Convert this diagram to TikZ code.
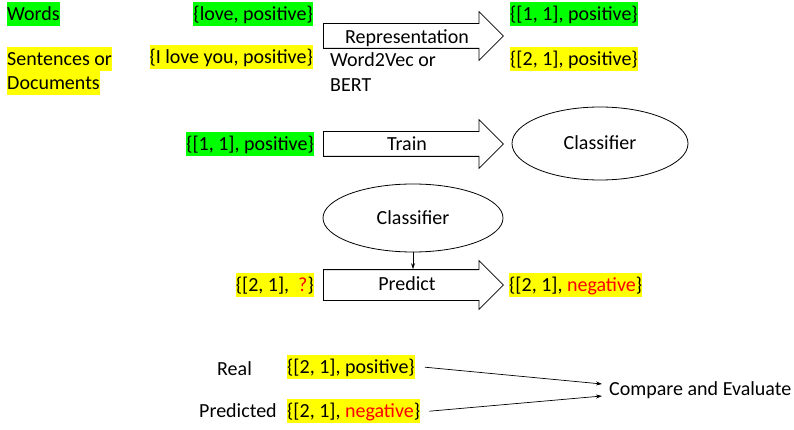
\documentclass[tikz,border=0pt]{standalone}
\usepackage{fontspec}
\setmainfont{Carlito}
\usetikzlibrary{shapes.geometric,shapes.arrows,arrows.meta,calc}
\definecolor{hlgreen}{HTML}{00FF00}
\definecolor{hlyellow}{HTML}{FFFF00}
\definecolor{hlred}{HTML}{FF0000}
\tikzset{
  every node/.style={font=\fontsize{20}{24}\selectfont, inner sep=0pt},
  hl/.style={inner xsep=0pt, inner ysep=0pt, text height=18pt, text depth=6pt},
  grn/.style={hl, fill=hlgreen},
  ylw/.style={hl, fill=hlyellow},
  plain/.style={inner sep=0pt},
  blockarrow/.style={single arrow, draw=black, line width=0.8pt, fill=white,
    minimum height=180pt, text height=0pt, text depth=0pt,
    single arrow tip angle=90, anchor=tail},
  classbox/.style={ellipse, draw=black, line width=0.8pt,
    text height=13pt, text depth=0pt},
  thinarrow/.style={line width=0.7pt, -{Stealth[length=6pt,width=4pt]}},
}
\newcommand{\redword}[1]{\textcolor{hlred}{#1}}
\begin{document}
\begin{tikzpicture}[x=1pt, y=-1pt]
  \path[use as bounding box] (0,0) rectangle (794,430);

  % data kinds and raw samples
  \node[grn, anchor=north west] (words) at (7,2) {Words};
  \node[grn, anchor=north east] (lovep) at (313,2) {\{love, positive\}};
  \node[ylw, anchor=north west] (sent1) at (7,47) {Sentences or};
  \node[ylw, anchor=north west] (sent2) at (7,71) {Documents};
  \node[ylw, anchor=north east] (iloveyou) at (313,45) {\{I love you, positive\}};

  % representation step
  \node[blockarrow, inner ysep=12pt, single arrow head extend=12pt] (rep) at (323,36) {};
  \node[plain, anchor=base] (reptext) at (407,44) {Representation};
  \node[plain, anchor=base west] (w2v) at (330,67) {Word2Vec or};
  \node[plain, anchor=base west] (bert) at (330,92) {BERT};
  \node[grn, anchor=north west] (v11) at (510,2) {\{[1, 1], positive\}};
  \node[ylw, anchor=north west] (v21) at (510,47) {\{[2, 1], positive\}};

  % training step
  \node[grn, anchor=north east] (t11) at (314,132) {\{[1, 1], positive\}};
  \node[blockarrow, inner ysep=12pt, single arrow head extend=12pt] (train) at (323,144) {};
  \node[plain, anchor=base] (traintext) at (407,151) {Train};
  \node[classbox, minimum width=176pt, minimum height=73pt] (cls1) at (600,143.5) {Classifier};

  % prediction step
  \node[classbox, minimum width=180pt, minimum height=68pt] (cls2) at (413,218) {Classifier};
  \node[blockarrow, inner ysep=15pt, single arrow head extend=9pt] (pred) at (323,285) {};
  \node[plain, anchor=base] (predtext) at (407,290) {Predict};
  \node[ylw, anchor=north east] (q) at (314,273) {\{[2, 1],\ \ \redword{?}\}};
  \node[ylw, anchor=north west] (negv) at (509,273) {\{[2, 1], \redword{negative}\}};
  \draw[thinarrow] (cls2.south) -- (cls2.south |- pred.north);

  % evaluation
  \node[plain, anchor=base west] (real) at (217,375) {Real};
  \node[ylw, anchor=north west] (realv) at (287,355) {\{[2, 1], positive\}};
  \node[plain, anchor=base west] (predicted) at (199,417) {Predicted};
  \node[ylw, anchor=north west] (predv) at (287,399) {\{[2, 1], \redword{negative}\}};
  \node[plain, anchor=base west, text height=14pt, text depth=4pt] (cmp) at (609,395) {Compare and Evaluate};
  \draw[thinarrow] ($(realv.east)+(10,0)$) -- ($(cmp.west)+(-7,-6)$);
  \draw[thinarrow] ($(predv.east)+(9,0)$) -- ($(cmp.west)+(-7,6)$);
\end{tikzpicture}
\end{document}
